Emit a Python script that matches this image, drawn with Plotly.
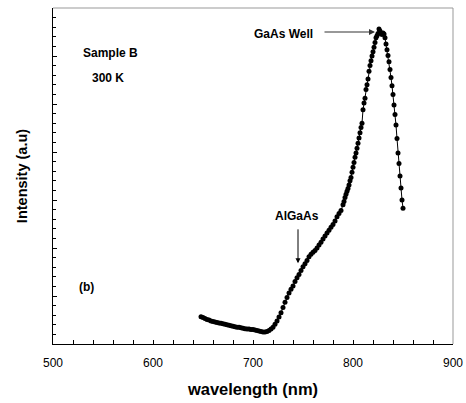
import plotly.graph_objects as go

wl_low = [648, 650, 652, 654, 656, 658, 660, 662, 664, 666, 668, 670, 672, 674, 676, 678,
          680, 682, 684, 686, 688, 690, 692, 694, 696, 698, 700, 702, 704, 706, 708, 710,
          712, 714, 716, 718, 720, 722, 724, 726, 728, 730, 732, 734, 736, 738, 740, 742,
          744, 746, 748, 750, 752, 754, 756, 758, 760, 762, 764, 766, 768, 770, 772, 774,
          776, 778, 780, 782, 784, 786, 788, 790]
int_low = [0.57, 0.55, 0.53, 0.51, 0.50, 0.48, 0.47, 0.46, 0.45, 0.44, 0.43, 0.42, 0.41, 0.40, 0.39, 0.38,
           0.37, 0.36, 0.35, 0.35, 0.34, 0.33, 0.32, 0.31, 0.31, 0.30, 0.30, 0.29, 0.28, 0.27, 0.26, 0.25,
           0.25, 0.26, 0.28, 0.31, 0.35, 0.41, 0.48, 0.56, 0.65, 0.76, 0.87, 0.97, 1.06, 1.14, 1.21, 1.30,
           1.38, 1.45, 1.53, 1.61, 1.67, 1.74, 1.82, 1.87, 1.91, 1.95, 2.00, 2.06, 2.12, 2.19, 2.25, 2.31,
           2.37, 2.43, 2.49, 2.56, 2.65, 2.72, 2.78, 2.90]
wl_peak = [791, 792, 793, 794, 795, 796, 797, 798, 799, 800, 801, 802, 803, 804, 805, 806,
           807, 808, 809, 810, 811, 812, 813, 814, 815, 816, 817, 818, 819, 820, 821, 822,
           823, 824, 825, 826, 827, 828, 829, 830, 831, 832, 833, 834, 835, 836, 837, 838,
           839, 840, 841, 842, 843, 844, 845, 846, 847, 848, 849, 850]
int_peak = [2.97, 3.05, 3.12, 3.18, 3.24, 3.31, 3.40, 3.47, 3.58, 3.68, 3.78, 3.89, 3.98, 4.08, 4.18, 4.29,
            4.40, 4.51, 4.60, 4.88, 5.02, 5.12, 5.30, 5.40, 5.52, 5.68, 5.80, 5.90, 6.00, 6.09, 6.18, 6.28,
            6.38, 6.42, 6.47, 6.56, 6.52, 6.47, 6.45, 6.48, 6.46, 6.38, 6.25, 6.13, 6.01, 5.88, 5.72, 5.55,
            5.38, 5.20, 4.98, 4.78, 4.56, 4.28, 3.98, 3.76, 3.50, 3.25, 3.00, 2.83]

wavelength = wl_low + wl_peak
intensity = int_low + int_peak

x_tick_vals = [500, 600, 700, 800, 900]

FONT = "Arial, Liberation Sans, sans-serif"

fig = go.Figure()
fig.add_trace(go.Scatter(
    x=wavelength, y=intensity, mode="lines+markers",
    line=dict(color="black", width=1),
    marker=dict(color="black", size=5),
    showlegend=False, hoverinfo="skip"))

fig.update_layout(
    width=466, height=403,
    margin=dict(l=53, r=13, t=8, b=59),
    paper_bgcolor="white", plot_bgcolor="white",
    font=dict(family=FONT, color="black", size=12),
    xaxis=dict(range=[500, 900], tickvals=x_tick_vals, ticks="inside", ticklen=4,
               tickcolor="black", showgrid=False, zeroline=False, automargin=False,
               showline=True, linecolor="black", linewidth=1, ticklabelstandoff=8,
               tickfont=dict(size=12, family=FONT),
               minor=dict(dtick=20, ticks="inside", ticklen=4, tickcolor="black"),
               title=dict(text="<b>wavelength (nm)</b>", font=dict(size=16.5, family=FONT), standoff=14)),
    yaxis=dict(range=[0, 7], dtick=1, ticks="inside", ticklen=4, tickcolor="black",
               showticklabels=False, showgrid=False, zeroline=False, automargin=False,
               showline=True, linecolor="black", linewidth=1,
               minor=dict(dtick=0.2, ticks="inside", ticklen=3, tickcolor="black"),
               title=dict(text="<b>Intensity (a.u)</b>", font=dict(size=14.5, family=FONT), standoff=20)),
)

# gray top and right frame
fig.add_shape(type="line", xref="x domain", yref="y domain", x0=0, x1=1, y0=1, y1=1,
              line=dict(color="#999999", width=1))
fig.add_shape(type="line", xref="x domain", yref="y domain", x0=1, x1=1, y0=0, y1=1,
              line=dict(color="#999999", width=1))

bold = dict(family=FONT, size=12, color="black")
fig.add_annotation(x=557, y=6.06, text="<b>Sample B</b>", showarrow=False, font=bold)
fig.add_annotation(x=555, y=5.54, text="<b>300 K</b>", showarrow=False, font=bold)
fig.add_annotation(x=533, y=1.18, text="<b>(b)</b>", showarrow=False, font=bold)
fig.add_annotation(x=730, y=6.45, text="<b>GaAs Well</b>", showarrow=False, font=bold)
fig.add_annotation(x=744, y=2.66, text="<b>AlGaAs</b>", showarrow=False, font=bold)

# arrows
fig.add_annotation(x=822, y=6.5, ax=770, ay=6.5, xref="x", yref="y", axref="x", ayref="y",
                   text="", showarrow=True, arrowhead=2, arrowsize=1, arrowwidth=1.2, arrowcolor="#333333")
fig.add_annotation(x=745, y=1.68, ax=745, ay=2.42, xref="x", yref="y", axref="x", ayref="y",
                   text="", showarrow=True, arrowhead=2, arrowsize=1, arrowwidth=1, arrowcolor="black")

fig.write_html("out.html", config={"displayModeBar": False},
               post_script="document.body.style.margin='0';")
